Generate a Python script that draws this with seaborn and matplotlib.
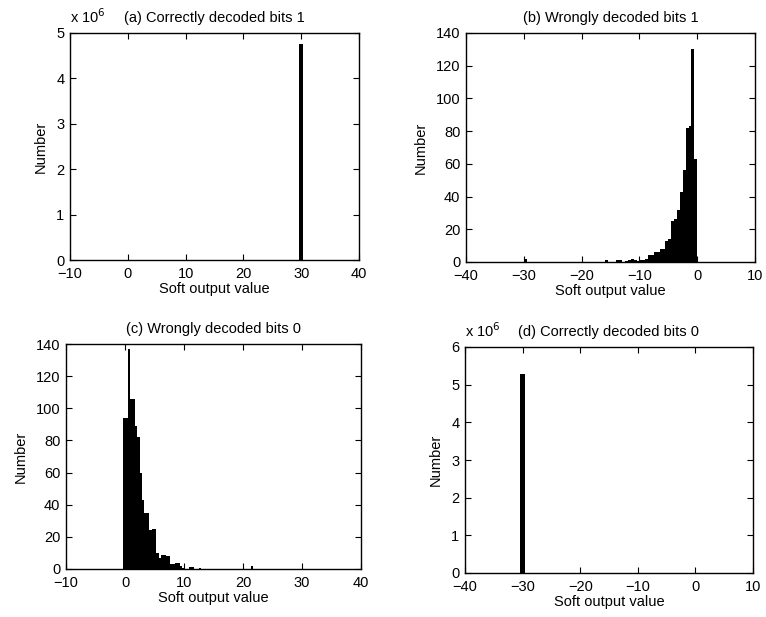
import numpy as np
import pandas as pd
import matplotlib
matplotlib.use("Agg")
import matplotlib.pyplot as plt
import seaborn as sns

# ---------------- data ----------------
# (a) correctly decoded bits 1
a_centers = [29.9]
a_counts = [4.76e6]
# (b) wrongly decoded bits 1 (bin width 0.5)
b_centers = [-0.25, -0.75, -1.25, -1.75, -2.25, -2.75, -3.25, -3.75, -4.25, -4.75,
             -5.25, -5.75, -6.25, -6.75, -7.25, -7.75, -8.25, -8.75, -9.25, -9.75,
             -10.25, -10.75, -11.25, -11.75, -12.25, -13.25, -13.75, -15.75, -29.75]
b_counts = [63, 130, 83, 82, 56, 43, 32, 26, 25, 14,
            13, 8, 8, 6, 6, 4, 4, 2, 1.5, 1,
            0.5, 1.5, 2, 1, 0.5, 1, 1, 1, 2]
# (c) wrongly decoded bits 0 (bin width 0.4)
c_centers = [-0.1, 0.3, 0.7, 1.1, 1.5, 1.9, 2.3, 2.7, 3.1, 3.5, 3.9, 4.3, 4.7, 5.1,
             5.5, 5.9, 6.3, 6.7, 7.1, 7.5, 7.9, 8.3, 8.7, 9.1, 9.5, 9.9,
             11.1, 11.5, 12.7, 21.5]
c_counts = [94, 94, 137, 106, 106, 89, 82, 60, 43, 35, 35, 24, 25, 25,
            10, 7, 9, 9, 8, 8, 3, 3, 4, 4, 2, 0.5,
            1.5, 1.5, 0.5, 2]
# (d) correctly decoded bits 0
d_centers = [-30.0]
d_counts = [5.27e6]

titles = ["(a) Correctly decoded bits 1", "(b) Wrongly decoded bits 1",
          "(c) Wrongly decoded bits 0", "(d) Correctly decoded bits 0"]

sns.set_style("ticks")
plt.rcParams['font.family'] = ['Liberation Sans', 'DejaVu Sans']
plt.rcParams.update({
    'xtick.direction': 'in', 'ytick.direction': 'in',
    'xtick.top': True, 'ytick.right': True,
    'xtick.major.size': 4, 'ytick.major.size': 4,
    'xtick.major.pad': 5, 'ytick.major.pad': 4,
    'xtick.labelsize': 10.5, 'ytick.labelsize': 10.5,
    'axes.linewidth': 1.0, 'axes.edgecolor': 'black',
    'xtick.color': 'black', 'ytick.color': 'black',
    'text.color': 'black', 'axes.labelcolor': 'black',
})

W, H = 766, 617
fig = plt.figure(figsize=(W / 100, H / 100), dpi=100)

def add_ax(l, r, t, b):
    return fig.add_axes([l / W, 1 - b / H, (r - l) / W, (b - t) / H])

axes = [add_ax(70, 359, 33, 260), add_ax(466, 755, 33, 262),
        add_ax(66, 361, 344, 569), add_ax(465, 753, 347, 573)]

specs = [
    (a_centers, a_counts, 0.65, (-10, 40), (0, 5e6), np.arange(0, 5.1e6, 1e6), True),
    (b_centers, b_counts, 0.5, (-40, 10), (0, 140), np.arange(0, 141, 20), False),
    (c_centers, c_counts, 0.4, (-10, 40), (0, 140), np.arange(0, 141, 20), False),
    (d_centers, d_counts, 0.8, (-40, 10), (0, 6e6), np.arange(0, 6.1e6, 1e6), True),
]

for ax, (cen, cnt, bw, xl, yl, yt, sci), title in zip(axes, specs, titles):
    df = pd.DataFrame({"x": cen, "w": cnt})
    lo = min(cen) - bw / 2
    hi = max(cen) + bw / 2
    nbins = int(round((hi - lo) / bw))
    sns.histplot(data=df, x="x", weights="w", bins=nbins, binrange=(lo, hi), ax=ax,
                 color="black", alpha=1, linewidth=0, edgecolor="black")
    ax.set_xlim(*xl)
    ax.set_ylim(*yl)
    ax.set_xticks(np.arange(xl[0], xl[1] + 1, 10))
    ax.set_yticks(yt)
    if sci:
        ax.set_yticklabels([f"{int(round(v / 1e6))}" for v in yt])
        ax.text(0.0, 1.03, r"x 10$^6$", transform=ax.transAxes,
                ha="left", va="bottom", fontsize=10.5)
    ax.set_xlabel("Soft output value", fontsize=10.5, labelpad=1)
    ax.set_ylabel("Number", fontsize=10.5, labelpad=6)
    ax.set_title(title, fontsize=10.5, pad=8)
    for s in ax.spines.values():
        s.set_visible(True)

fig.savefig("out.png", dpi=100)
